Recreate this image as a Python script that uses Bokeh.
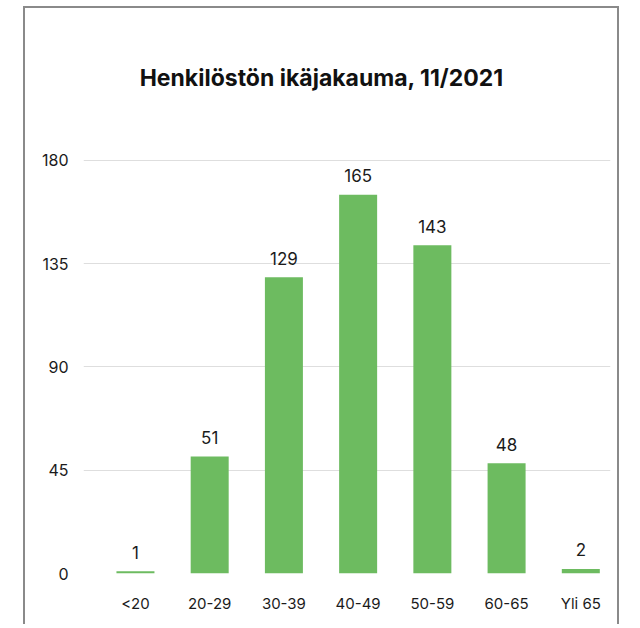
from bokeh.plotting import figure
from bokeh.models import ColumnDataSource, Range1d, FixedTicker, Label
from bokeh.core.properties import value
from bokeh.embed import file_html
from bokeh.resources import INLINE

# ---- data ----
categories = ["<20", "20-29", "30-39", "40-49", "50-59", "60-65", "Yli 65"]
counts = [1, 51, 129, 165, 143, 48, 2]
y_ticks = [0, 45, 90, 135, 180]
title_text = "Henkilöstön ikäjakauma, 11/2021"

FONT = "Inter"
GREEN = "#6dbb60"
TXT = "#1b1b1b"

xs = list(range(len(categories)))
src = ColumnDataSource(dict(x=xs, top=counts, lbl=[str(c) for c in counts]))

p = figure(width=596, height=618, output_backend="svg", toolbar_location=None,
           x_range=Range1d(-0.70, 6.40), y_range=Range1d(0, 230),
           min_border_left=58, min_border_right=11, min_border_top=37, min_border_bottom=53)
p.styles = {"margin-left": "23px", "margin-top": "6px",
            "border-left": "2px solid #8a8a8a", "border-right": "2px solid #8a8a8a",
            "border-top": "2px solid #8a8a8a"}
p.outline_line_color = None
p.background_fill_color = "white"
p.border_fill_color = "white"

p.vbar(x="x", top="top", width=0.512, source=src, fill_color=GREEN, line_color=None)
p.text(x="x", y="top", text="lbl", source=src, text_align="center", text_baseline="alphabetic",
       y_offset=-19, text_font=value(FONT), text_font_size="17px", text_font_style="normal",
       text_color=TXT)

# axes
p.xaxis.ticker = FixedTicker(ticks=xs)
p.xaxis.major_label_overrides = {i: c for i, c in enumerate(categories)}
p.yaxis.ticker = FixedTicker(ticks=y_ticks)
for ax in (p.xaxis, p.yaxis):
    ax.axis_line_color = None
    ax.major_tick_line_color = None
    ax.minor_tick_line_color = None
    ax.major_label_text_font = FONT
    ax.major_label_text_font_size = "15px"
    ax.major_label_text_color = TXT
p.yaxis.major_label_text_font_size = "16px"
p.xaxis.major_label_standoff = 14
p.yaxis.major_label_standoff = 9

p.xgrid.grid_line_color = None
p.ygrid.ticker = FixedTicker(ticks=y_ticks)
p.ygrid.grid_line_color = "#dedede"
p.ygrid.grid_line_width = 1

title = Label(x=2.51, y=216, text=title_text,
              text_align="center", text_baseline="middle", text_font=FONT,
              text_font_size="23px", text_font_style="bold", text_color="#111111")
p.add_layout(title)

open("out.html", "w").write(file_html(p, INLINE))
